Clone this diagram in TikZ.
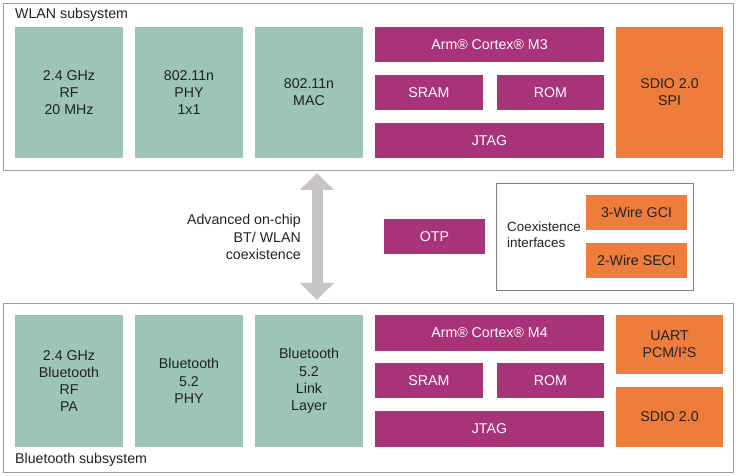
\documentclass[tikz,border=0pt]{standalone}
\usepackage{fontspec}
\setmainfont{Liberation Sans}
\usetikzlibrary{arrows.meta}

\definecolor{tealblk}{HTML}{9CC4B8}
\definecolor{armblk}{HTML}{A83379}
\definecolor{ioblk}{HTML}{EE7D3B}
\definecolor{frame}{HTML}{A39B9E}
\definecolor{coexgray}{HTML}{C8C4C6}
\definecolor{txt}{HTML}{222222}

\begin{document}
\begin{tikzpicture}[x=1pt, y=-1pt,
    every node/.style={font=\fontsize{14.2}{17.2}\selectfont, inner sep=0pt},
    subsys/.style={draw=frame, line width=0.9pt, fill=white},
    radio/.style={fill=tealblk, text=txt, align=center, minimum width=108pt, minimum height=131pt},
    core/.style={fill=armblk, text=white, align=center, minimum height=35pt},
    iface/.style={fill=ioblk, text=txt, align=center, minimum width=107pt}
  ]
    \useasboundingbox (0,0) rectangle (740,476);

    % Subsystem frames
    \node[subsys, minimum width=730pt, minimum height=167pt] (wlan) at (368,86.5) {};
    \node[subsys, minimum width=730pt, minimum height=169pt] (bt) at (368,387.5) {};
    \node[anchor=west, text=txt] (wlanlbl) at (15,15) {WLAN subsystem};
    \node[anchor=west, text=txt] (btlbl) at (15,460) {Bluetooth subsystem};

    % WLAN radio blocks
    \node[radio] (wrf)  at (69,92.5)  {2.4 GHz\\RF\\20 MHz};
    \node[radio] (wphy) at (189,92.5) {802.11n\\PHY\\1x1};
    \node[radio] (wmac) at (309,92.5) {802.11n\\MAC};

    % WLAN processor
    \node[core, minimum width=229pt] (m3)    at (489.5,44.5) {Arm® Cortex® M3};
    \node[core, minimum width=108pt] (wsram) at (429,93)     {SRAM};
    \node[core, minimum width=107pt] (wrom)  at (550.5,93)   {ROM};
    \node[core, minimum width=229pt] (wjtag) at (489.5,140.5) {JTAG};
    \node[iface, minimum height=131pt] (wsdio) at (669.5,92.5) {SDIO 2.0\\SPI};

    % Coexistence between the two subsystems
    \coordinate (coextop) at (317,173);
    \coordinate (coexbot) at (317,300);
    \draw[coexgray, line width=11pt, {Triangle[width=33pt,length=17pt]}-{Triangle[width=33pt,length=17pt]}] (coextop) -- (coexbot);
    \node[anchor=east, align=right, text=txt] (coexlbl) at (301,237) {Advanced on-chip\\BT/ WLAN\\coexistence};

    \node[core, minimum width=101pt] (otp) at (434.5,236.5) {OTP};

    \node[draw=gray, line width=0.9pt, minimum width=197pt, minimum height=107pt] (coexif) at (594.5,236.5) {};
    \node[anchor=west, align=left, text=txt, font=\fontsize{13.4}{16.4}\selectfont] (coexiflbl) at (507,235) {Coexistence\\interfaces};
    \node[iface, minimum width=101pt, minimum height=35pt] (gci)  at (636.5,212.5) {3-Wire GCI};
    \node[iface, minimum width=101pt, minimum height=35pt] (seci) at (636.5,260.5) {2-Wire SECI};

    % Bluetooth radio blocks
    \node[radio, minimum height=132pt] (brf)  at (69,381)  {2.4 GHz\\Bluetooth\\RF\\PA};
    \node[radio, minimum height=132pt] (bphy) at (189,381) {Bluetooth\\5.2\\PHY};
    \node[radio, minimum height=132pt] (bll)  at (309,381) {Bluetooth\\5.2\\Link\\Layer};

    % Bluetooth processor
    \node[core, minimum width=229pt, minimum height=36pt] (m4) at (489.5,333) {Arm® Cortex® M4};
    \node[core, minimum width=108pt] (bsram) at (429,380.5)   {SRAM};
    \node[core, minimum width=107pt] (brom)  at (550.5,380.5) {ROM};
    \node[core, minimum width=229pt, minimum height=36pt] (bjtag) at (489.5,429) {JTAG};
    \node[iface, minimum height=59pt] (uart)  at (669.5,344.5) {UART\\PCM/I²S};
    \node[iface, minimum height=60pt] (bsdio) at (669.5,417)   {SDIO 2.0};
\end{tikzpicture}
\end{document}
